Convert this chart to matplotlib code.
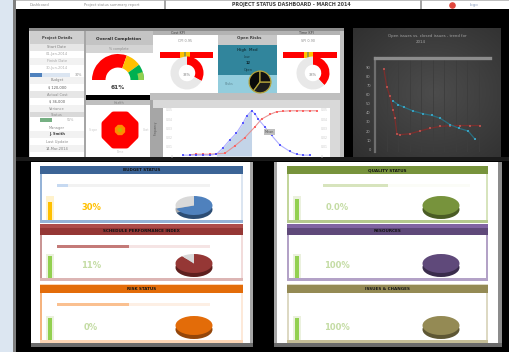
import matplotlib
matplotlib.use("Agg")
import matplotlib.pyplot as plt
from matplotlib.patches import Rectangle
import numpy as np

# ---------------- data ----------------
header_left_1 = "Dashboard"
header_left_2 = "Project status summary report"
header_title = "PROJECT STATUS DASHBOARD - MARCH 2014"
header_logo = "logo"

table_rows = ["Project Details", "Start Date", "01-Jan-2014", "Finish Date", "30-Jun-2014",
              "", "Budget", "$ 120,000", "Actual Cost", "$ 36,000", "Variance",
              "Status", "", "Manager", "J. Smith", "Last Update", "14-Mar-2014", ""]
table_progress_blue = [30]
table_progress_green = [55]

gauge_title = "Overall Completion"
gauge_zones = [61, 19, 20]
gauge_label = "61%"
radar_outer = [100, 100, 100, 100, 100, 100, 100, 100]
radar_mid = [28, 28, 28, 28, 28, 28, 28, 28]
radar_inner = [12, 12, 12, 12, 12, 12, 12, 12]

kpi_titles = ["Cost KPI", "Open Risks", "Time KPI"]
kpi_sub = ["CPI 0.95", "", "SPI 0.90"]
bullet_segments = [38, 7, 4, 7, 44]
donut_a = [33, 67]
donut_c = [38, 62]
donut_a_label = "33%"
donut_c_label = "38%"
risk_pie = [40, 35, 25]
risk_texts = ["High  Med", "Low", "12", "Open", "Risks"]

pdf_x = [12, 16, 20, 24, 28, 32, 36, 40, 44, 48, 50, 53, 55, 57, 61, 65, 70, 76, 80, 84, 88]
pdf_y = [2, 2, 2, 2, 2, 4, 18, 35, 50, 72, 86, 98, 92, 80, 63, 45, 24, 10, 4, 2, 2]
cdf_x = [16, 20, 24, 28, 32, 37, 43, 49, 55, 59, 64, 68, 72, 76, 80, 84, 88, 92]
cdf_y = [3, 4, 4, 4, 5, 6, 22, 40, 63, 80, 90, 96, 97, 98, 98, 98, 98, 98]
pdf_fill_range = (32, 53)
pdf_ticks = ["0.05", "0.04", "0.03", "0.02", "0.01", "0"]

trend_title_1 = "Open issues vs. closed issues - trend for"
trend_title_2 = "2014"
closed_x = [2.3, 3.1, 3.9, 4.7, 5.2, 5.7, 6.5, 9.1, 11.7, 14.4, 17.0, 19.6, 22.2, 24.8, 27.4]
closed_y = [88, 68, 58, 43, 34, 17, 16, 17, 20, 23, 25, 26, 26, 26, 26]
open_x = [4.7, 6.0, 7.6, 9.9, 12.5, 14.9, 17.0, 19.6, 21.9, 24.3, 26.1]
open_y = [53, 49, 46, 42, 39, 37, 34, 27, 23, 20, 11]
trend_yticks = [0, 10, 20, 30, 40, 50, 60, 70, 80, 90]

left_titles = ["BUDGET STATUS", "SCHEDULE PERFORMANCE INDEX", "RISK STATUS"]
right_titles = ["QUALITY STATUS", "RESOURCES", "ISSUES & CHANGES"]
left_pct = ["30%", "11%", "0%"]
right_pct = ["0.0%", "100%", "100%"]
left_pies = [[70, 30], [89, 11], [100, 0]]
right_pies = [[100, 0], [100, 0], [100, 0]]
left_progress = [7, 47, 47]
right_progress = [44, 0, 0]
left_vbar = [75, 92, 92]
right_vbar = [88, 92, 92]

# ---------------- figure ----------------
W, H = 509, 352
fig = plt.figure(figsize=(W / 100, H / 100), dpi=100, facecolor="black")


def ax_px(x0, y0, x1, y1, **kw):
    return fig.add_axes([x0 / W, 1 - y1 / H, (x1 - x0) / W, (y1 - y0) / H], **kw)


bg = ax_px(0, 0, W, H)
bg.set_xlim(0, W)
bg.set_ylim(H, 0)
bg.axis("off")


def rect(x0, y0, x1, y1, fc, ec="none", lw=0, z=1):
    bg.add_patch(Rectangle((x0, y0), x1 - x0, y1 - y0, facecolor=fc, edgecolor=ec, linewidth=lw, zorder=z))


def txt(x, y, s, size=3, color="#595959", ha="center", weight="normal", rot=0):
    bg.text(x, y, s, fontsize=size, color=color, ha=ha, va="center", fontweight=weight, rotation=rot, zorder=10)


def clean(ax):
    ax.set_xticks([])
    ax.set_yticks([])
    for s in ax.spines.values():
        s.set_visible(False)
    ax.patch.set_visible(False)


# left strip & header
rect(0, 0, 13, H, "#dce6f1")
rect(13, 0, 16, H, "#7f7f7f")
rect(16, 0, W, 9, "#ffffff")
rect(16, 0, W, 0.8, "#bfbfbf")
rect(164, 0, 166, 9, "#a6a6a6")
rect(420, 0, 422, 9, "#a6a6a6")
txt(40, 4.7, header_left_1, size=2.6, color="#8c8c8c")
txt(112, 4.7, header_left_2, size=2.6, color="#8c8c8c")
txt(291, 4.7, header_title, size=3.4, color="#404040", weight="bold")
bg.scatter([452], [4.8], s=14, color="#e0463c", zorder=10)
txt(474, 4.7, header_logo, size=3, color="#8ea0c0")

# ---------------- top panel ----------------
rect(29, 28, 344, 157, "#d9d9d9")
rect(29, 28, 344, 31, "#8c8c8c")

# left table
row_y = [31, 44, 51, 58, 65, 72, 77, 84, 91, 98, 105, 112, 117, 124, 131, 138, 145, 152, 157]
row_bg = ["#cfcfcf", "#e6e6e6", "#ffffff", "#f2f2f2", "#ffffff", "#ffffff", "#f2f2f2", "#ffffff",
          "#e6e6e6", "#ffffff", "#f2f2f2", "#d9d9d9", "#ffffff", "#ffffff", "#f2f2f2", "#ffffff",
          "#f2f2f2", "#ffffff"]
row_col = ["#404040", "#7f7f7f", "#a6a6a6", "#a6a6a6", "#b0b0b0", "", "#7f7f7f", "#595959",
           "#8c8c8c", "#595959", "#8c8c8c", "#8c8c8c", "", "#8c8c8c", "#404040", "#8c8c8c",
           "#7f7f7f", "#8c8c8c"]
for i, lab in enumerate(table_rows):
    rect(30, row_y[i], 84, row_y[i + 1], row_bg[i])
    if lab:
        txt(57, (row_y[i] + row_y[i + 1]) / 2, lab, size=2.6, color=row_col[i],
            weight="bold" if i in (0, 14) else "normal")
rect(84, 31, 86, 157, "#a6a6a6")

pb = ax_px(30, 72.5, 70, 76.5)
pb.barh([0], [100], color="#dbe5f1", height=1)
pb.barh([0], table_progress_blue, color="#4f81bd", height=1)
pb.set_xlim(0, 100); pb.set_ylim(-0.5, 0.5); clean(pb)
txt(78, 74.5, "30%", size=2.4, color="#8c8c8c")
pg = ax_px(40, 118, 62, 122)
pg.barh([0], [100], color="#ffffff", height=1)
pg.barh([0], table_progress_green, color="#76b083", height=1)
pg.set_xlim(0, 100); pg.set_ylim(-0.5, 0.5); clean(pg)
txt(70, 120, "55%", size=2.4, color="#a6a6a6")

# gauge section
rect(86, 31, 153, 45, "#c4c4c4")
rect(86, 45, 153, 53, "#d4d4d4")
rect(86, 53, 153, 95, "#ffffff")
txt(119, 39, gauge_title, size=3, color="#262626", weight="bold")
txt(119, 49, "% complete", size=2.4, color="#8c8c8c")
rect(86, 95, 153, 100, "#000000")
rect(86, 100, 153, 105, "#bfbfbf")
rect(86, 105, 153, 157, "#ffffff")
txt(119, 102.5, "Health", size=2.3, color="#7f7f7f")
txt(93, 130, "Scope", size=2.2, color="#c8c8c8")
txt(146, 130, "Cost", size=2.2, color="#c8c8c8")
txt(120, 152, "Time", size=2.2, color="#c8c8c8")

g = ax_px(92, 54, 144, 106)
g.pie(gauge_zones + [sum(gauge_zones)], colors=["#ff0000", "#ffc000", "#00b050", "none"],
      startangle=180, counterclock=False, radius=1, wedgeprops=dict(width=0.52, linewidth=0))
g.pie([gauge_zones[2] * 0.5, sum(gauge_zones) * 2 - gauge_zones[2] * 0.5], colors=["#92d050", "none"],
      startangle=180 - 180 * (sum(gauge_zones[:2]) + gauge_zones[2] * 0.5) / 100, counterclock=False,
      radius=1.0, wedgeprops=dict(width=0.22, linewidth=0))
g.set_xlim(-1, 1); g.set_ylim(-1, 1); clean(g)
g.text(0, -0.3, gauge_label, ha="center", va="center", fontsize=4.2, color="#404040", fontweight="bold")

theta = np.deg2rad(np.arange(0, 360, 45) + 22.5)
rd = fig.add_axes([100 / W, 1 - 150 / H, 40 / W, 40 / H], projection="polar")
th_c = np.append(theta, theta[0])
for vals, col in [(radar_outer, "#ff0000"), (radar_mid, "#ff8c00"), (radar_inner, "#c8b400")]:
    v = np.append(vals, vals[0])
    rd.fill(th_c, v, color=col, linewidth=0)
rd.set_ylim(0, 100)
rd.set_xticks([]); rd.set_yticks([])
rd.spines["polar"].set_visible(False)
rd.patch.set_visible(False)

# KPI sections
rect(153, 31, 344, 35, "#b3b3b3")
rect(153, 35, 218, 93, "#ffffff")
rect(218, 35, 277, 45, "#c8c8c8")
rect(218, 45, 277, 75, "#31859c")
rect(218, 75, 277, 93, "#93cddd")
rect(277, 35, 340, 93, "#ffffff")
rect(340, 31, 344, 157, "#bfbfbf")
txt(178, 33, kpi_titles[0], size=2.4, color="#404040")
txt(249, 38, kpi_titles[1], size=2.8, color="#404040", weight="bold")
txt(306, 33, kpi_titles[2], size=2.4, color="#404040")
txt(185, 40.5, kpi_sub[0], size=2.4, color="#8c8c8c")
txt(308, 40.5, kpi_sub[2], size=2.4, color="#8c8c8c")
txt(247, 49.5, risk_texts[0], size=2.6, color="#173f4a", weight="bold")
txt(247, 57, risk_texts[1], size=2.4, color="#173f4a")
txt(248, 63, risk_texts[2], size=2.6, color="#0d2a33", weight="bold")
txt(248, 70, risk_texts[3], size=2.4, color="#173f4a")
txt(229, 84, risk_texts[4], size=2.4, color="#5f8a96")

for (x0, x1) in [(160, 213), (283, 337)]:
    bb = ax_px(x0, 52, x1, 58)
    left = 0
    for w, c in zip(bullet_segments, ["#ff0000", "#ffc000", "#9b9b3a", "#ffc000", "#ff0000"]):
        bb.barh([0], [w], left=left, color=c, height=1, linewidth=0)
        left += w
    bb.set_xlim(0, 100); bb.set_ylim(-0.5, 0.5); clean(bb)

for (cx, vals, lab) in [(187, donut_a, donut_a_label), (313, donut_c, donut_c_label)]:
    d = ax_px(cx - 16.5, 56.5, cx + 16.5, 89.5)
    d.pie(vals, colors=["#ff0000", "#e8e8e8"], startangle=90, counterclock=False,
          wedgeprops=dict(width=0.5, linewidth=0))
    d.set_xlim(-1, 1); d.set_ylim(-1, 1); clean(d)
    d.text(0, -0.1, lab, ha="center", va="center", fontsize=2.6, color="#7f7f7f")

rp = ax_px(248, 70, 272, 94)
rp.pie(risk_pie, colors=["#0a0a0a", "#1c1c1c", "#111111"], startangle=90,
       wedgeprops=dict(linewidth=0.9, edgecolor="#b3a33a"))
rp.set_xlim(-1.1, 1.1); rp.set_ylim(-1.1, 1.1); clean(rp)

# distribution chart
rect(150, 93, 344, 100, "#bfbfbf")
rect(150, 100, 163, 157, "#a6a6a6")
rect(153, 100, 340, 108, "#d9d9d9")
rect(330, 108, 340, 157, "#d9d9d9")
txt(156, 128, "Frequency", size=2.0, color="#595959", rot=90)
dc = ax_px(163, 108, 330, 157)
dc.set_facecolor("#ffffff")
fx = [x for x in pdf_x if pdf_fill_range[0] <= x <= pdf_fill_range[1]]
fy = [y for x, y in zip(pdf_x, pdf_y) if pdf_fill_range[0] <= x <= pdf_fill_range[1]]
dc.fill_between(fx, 0, fy, color="#b9cde5", alpha=0.85, linewidth=0)
dc.plot(cdf_x, cdf_y, color="#e58b8b", linewidth=0.8, marker="s", markersize=1.6,
        markerfacecolor="#ff5a5a", markeredgewidth=0, alpha=0.9)
dc.plot(pdf_x, pdf_y, color="#9c9cff", linewidth=0.8, marker="s", markersize=1.6,
        markerfacecolor="#3c3cff", markeredgewidth=0, alpha=0.8)
dc.text(61, 50, "Mean", fontsize=2.4, color="#595959",
        bbox=dict(boxstyle="square,pad=0.2", fc="#bfbfbf", ec="none"))
dc.set_xlim(0, 100); dc.set_ylim(-2, 104)
for s in dc.spines.values():
    s.set_visible(False)
dc.set_xticks([])
dc.set_yticks([0, 20, 40, 60, 80, 100])
dc.set_yticklabels(pdf_ticks[::-1])
dc.tick_params(axis="y", length=0, labelsize=2.2, labelcolor="#c8c8c8", pad=-7, labelright=True)

# ---------------- dark trend panel ----------------
ny, nx = 64, 74
yy, xx = np.mgrid[0:1:ny * 1j, 0:1:nx * 1j]
r = np.sqrt((xx - 0.55) ** 2 + (yy - 0.5) ** 2)
v = np.clip(0.30 - 0.15 * r, 0.14, 0.32)
img = np.dstack([v, v, v])
bg.imshow(img, extent=(353, 501, 157, 28), aspect="auto", zorder=2, interpolation="bilinear")
bg.set_xlim(0, W); bg.set_ylim(H, 0)
txt(427, 36, trend_title_1, size=2.8, color="#a6a6a6")
txt(421, 42, trend_title_2, size=2.8, color="#a6a6a6")

tr = ax_px(375, 58, 490, 152)
tr.patch.set_visible(False)
for xv in range(0, 31, 3):
    tr.axvline(xv, color="#3d3d3d", linewidth=0.6, zorder=0)
tr.plot(closed_x, closed_y, color="#7a2f2d", linewidth=0.9, marker="s", markersize=2.0,
        markerfacecolor="#b0504d", markeredgewidth=0)
tr.plot(open_x, open_y, color="#2a6f80", linewidth=0.9, marker="s", markersize=2.0,
        markerfacecolor="#3aa0bf", markeredgewidth=0)
tr.set_xlim(0, 30); tr.set_ylim(-3, 100)
tr.set_yticks(trend_yticks)
tr.set_yticklabels([str(t) for t in trend_yticks])
tr.tick_params(axis="y", length=0, labelsize=2.6, labelcolor="#a6a6a6", pad=3)
tr.set_xticks([])
tr.spines["right"].set_visible(False)
tr.spines["bottom"].set_visible(False)
tr.spines["top"].set_color("#8c8c8c"); tr.spines["top"].set_linewidth(2.4)
tr.spines["left"].set_color("#6e6e6e"); tr.spines["left"].set_linewidth(1.6)

# ---------------- bottom panels ----------------
rect(16, 157, W, 161, "#1a1a1a")
rect(31, 162, 250, 343, "#ffffff")
rect(250, 162, 253, 347, "#a6a6a6")
rect(31, 343, 253, 347, "#6b6b6b")
rect(274, 162, 277, 347, "#a6a6a6")
rect(277, 162, 498, 343, "#ffffff")
rect(498, 162, 502, 347, "#8c8c8c")
rect(274, 343, 502, 347, "#6b6b6b")

card_y = [(166, 174, 220), (224, 235, 278), (285, 293, 340)]
left_style = [
    dict(h="#3c6496", top=None, side="#95b3d7", side2="#dbe5f1", bot="#95b3d7",
         track="#f2f2f2", val="#c6d9f1", vtrack="#fff2cc", vcol="#ffc000", pct="#ffc000",
         pie="#4f81bd", shade="#2c4d74"),
    dict(h="#953735", top="#ad4c4a", side="#c99594", side2="#f2dcdb", bot="#dcb5b4",
         track="#f5e4e4", val="#c47a78", vtrack="#ebf1de", vcol="#92d050", pct="#c4dca4",
         pie="#953735", shade="#5e1f1e"),
    dict(h="#e36c09", top="#fcd5b4", side="#f5b37e", side2="#fde9d9", bot="#fcd5b4",
         track="#fdefe4", val="#fac090", vtrack="#ebf1de", vcol="#92d050", pct="#c4dca4",
         pie="#e36c09", shade="#94460a"),
]
right_style = [
    dict(h="#77933c", top=None, side="#c3d69b", side2="#d7e4bd", bot="#b5c98e",
         track="#fbfcf7", val="#d7e4bd", vtrack="#ebf1de", vcol="#92d050", pct="#c4dca4",
         pie="#77933c", shade="#4a5c25"),
    dict(h="#5f497a", top="#8064a2", side="#b3a2c7", side2="#b3a2c7", bot="#b3a2c7",
         track=None, val=None, vtrack="#ebf1de", vcol="#92d050", pct="#c4dca4",
         pie="#5f497a", shade="#3a2c4c"),
    dict(h="#948a54", top="#ddd9c3", side="#ddd9c3", side2="#ddd9c3", bot="#c4bd97",
         track=None, val=None, vtrack="#ebf1de", vcol="#92d050", pct="#c4dca4",
         pie="#948a54", shade="#5e5734"),
]


def draw_card(x0, x1, ys, st, title, pct, pie_vals, prog, vbar, pie_cx, pct_x, vb_x, pb_x):
    hy0, hy1, by1 = ys
    rect(x0, hy0, x1, hy1, st["h"], z=2)
    if st["top"]:
        light_top = st["top"] in ("#fcd5b4", "#ddd9c3")
        rect(x0, hy0 - 1.5 if light_top else hy0, x1,
             hy0 + (0 if light_top else 3.5), st["top"], z=2)
    txt((x0 + x1) / 2, (hy0 + hy1) / 2 + (1 if hy1 - hy0 > 9 else 0), title, size=3.0,
        color="#141414", weight="bold")
    rect(x0, hy1, x0 + 2.5, by1, st["side"], z=2)
    rect(x1 - 2, hy1, x1, by1, st["side2"], z=2)
    rect(x0, by1, x1, by1 + 3, st["bot"], z=2)
    # progress bar
    if st["track"] and prog:
        p = ax_px(pb_x[0], hy1 + 10, pb_x[1], hy1 + 13)
        p.barh([0], [100], color=st["track"], height=1, linewidth=0)
        p.barh([0], [prog], color=st["val"], height=1, linewidth=0)
        p.set_xlim(0, 100); p.set_ylim(-0.5, 0.5); clean(p)
    # small vertical bar
    vb = ax_px(vb_x[0], by1 - 24, vb_x[1], by1)
    vb.bar([0], [100], color=st["vtrack"], width=1, linewidth=0)
    vb.bar([0], [vbar], color=st["vcol"], width=0.5, linewidth=0)
    vb.set_xlim(-0.5, 0.5); vb.set_ylim(0, 100); clean(vb)
    # percentage
    txt(pct_x, by1 - 12, pct, size=6, color=st["pct"], weight="bold")
    # 3D-ish pie
    cy = by1 - 15
    sh = ax_px(pie_cx - 18.5, cy - 5, pie_cx + 18.5, cy + 14)
    sh.pie(pie_vals, colors=[st["shade"], "#a6a6a6"], startangle=90, counterclock=False,
           wedgeprops=dict(linewidth=0))
    sh.set_aspect("auto"); sh.set_xlim(-1, 1); sh.set_ylim(-1, 1); clean(sh)
    tp = ax_px(pie_cx - 18.5, cy - 9, pie_cx + 18.5, cy + 10)
    tp.pie(pie_vals, colors=[st["pie"], "#d9d9d9"], startangle=90, counterclock=False,
           wedgeprops=dict(linewidth=0))
    tp.set_aspect("auto"); tp.set_xlim(-1, 1); tp.set_ylim(-1, 1); clean(tp)


for i in range(3):
    draw_card(40, 243, card_y[i], left_style[i], left_titles[i], left_pct[i], left_pies[i],
              left_progress[i], left_vbar[i], 194, 91, (46, 54), (57, 210))
    draw_card(287, 488, card_y[i], right_style[i], right_titles[i], right_pct[i], right_pies[i],
              right_progress[i], right_vbar[i], 441, 337, (293, 301), (323, 470))

fig.savefig("out.png", dpi=100, facecolor="black")
